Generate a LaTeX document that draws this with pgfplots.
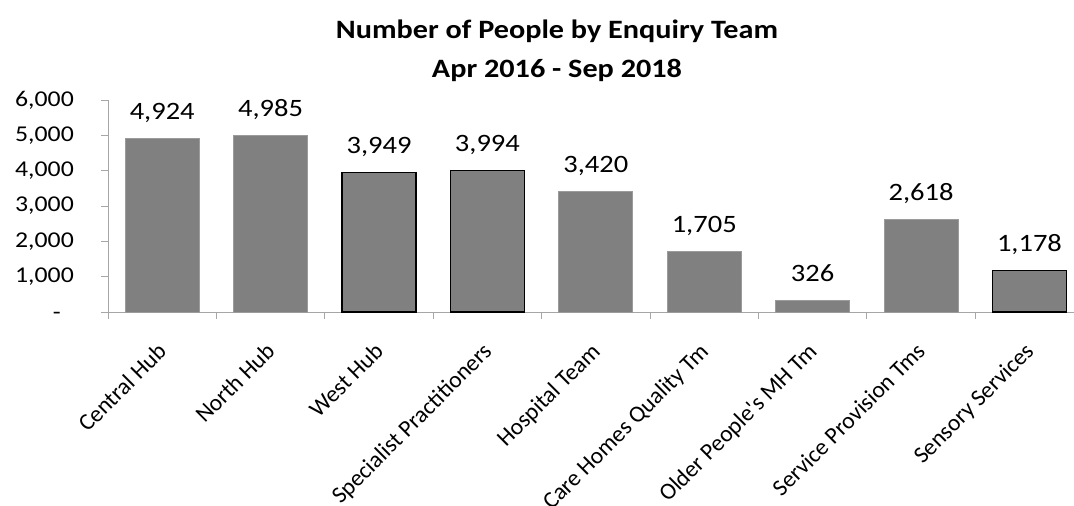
\documentclass[border=0pt]{standalone}
\usepackage{fontspec}
\setmainfont{Carlito}[FakeStretch=1.14]
\newfontfamily\catfont{Carlito}
\usepackage{pgfplots}
\pgfplotsset{compat=1.18}
\definecolor{barfill}{RGB}{128,128,128}
\definecolor{baredge}{RGB}{155,155,155}
\definecolor{axisgray}{RGB}{166,166,166}
\newcommand{\ticksize}{\fontsize{22.6pt}{27pt}\selectfont}
\newcommand{\catsize}{\catfont\fontsize{23.5pt}{28pt}\selectfont}
\newcommand{\valsize}{\fontsize{25pt}{30pt}\selectfont}
\newcommand{\titlesize}{\fontsize{26.5pt}{39pt}\selectfont}

\begin{document}
\begin{tikzpicture}
\useasboundingbox (-108pt,-194pt) rectangle (966pt,312pt);
\clip (-108pt,-194pt) rectangle (966pt,312pt);
\begin{axis}[
  scale only axis, width=966pt, height=212pt,
  xmin=-0.5, xmax=8.411, ymin=0, ymax=6000,
  axis x line*=bottom, axis y line*=left,
  axis line style={axisgray, line width=0.9pt},
  tick style={axisgray, line width=0.9pt},
  tick align=outside, major tick length=7pt,
  ybar, bar width=74pt,
  % boundary ticks carry no labels, category labels are extra ticks
  xtick={-0.5,0.5,...,8.5}, xticklabel={\phantom{0}},
  extra x ticks={0,1,2,3,4,5,6,7,8},
  extra x tick labels={Central Hub, North Hub, West Hub, Specialist Practitioners, Hospital Team, Care Homes Quality Tm, Older People's MH Tm, Service Provision Tms, Sensory Services},
  extra x tick style={major tick length=0pt},
  xticklabel style={font=\catsize, xshift=-6pt, yshift=-29pt, rotate=45, anchor=north east, inner sep=0pt},
  ytick={0,1000,...,6000},
  yticklabels={{-\phantom{0}},{1,000},{2,000},{3,000},{4,000},{5,000},{6,000}},
  yticklabel style={font=\ticksize, anchor=east, inner sep=0pt, xshift=-27pt},
  title={Number of People by Enquiry Team\\Apr 2016 - Sep 2018},
  title style={font=\titlesize\bfseries, align=center, inner sep=0pt, anchor=south, at={(axis description cs:0.4648,1)}, yshift=12pt},
  point meta=y,
  nodes near coords={\pgfmathprintnumber[1000 sep={,}, assume math mode=true]{\pgfplotspointmeta}},
  every node near coord/.append style={font=\valsize, text=black, anchor=base, inner sep=0pt, yshift=19pt},
]
\addplot[fill=barfill, draw=baredge, line width=0.9pt, bar shift=0pt] coordinates {
  (0,4924) (1,4985) (4,3420) (5,1705) (6,326) (7,2618)
};
\addplot[fill=barfill, draw=black, line width=1.2pt, bar shift=0pt] coordinates {
  (2,3949) (3,3994) (8,1178)
};
\end{axis}
\end{tikzpicture}
\end{document}
